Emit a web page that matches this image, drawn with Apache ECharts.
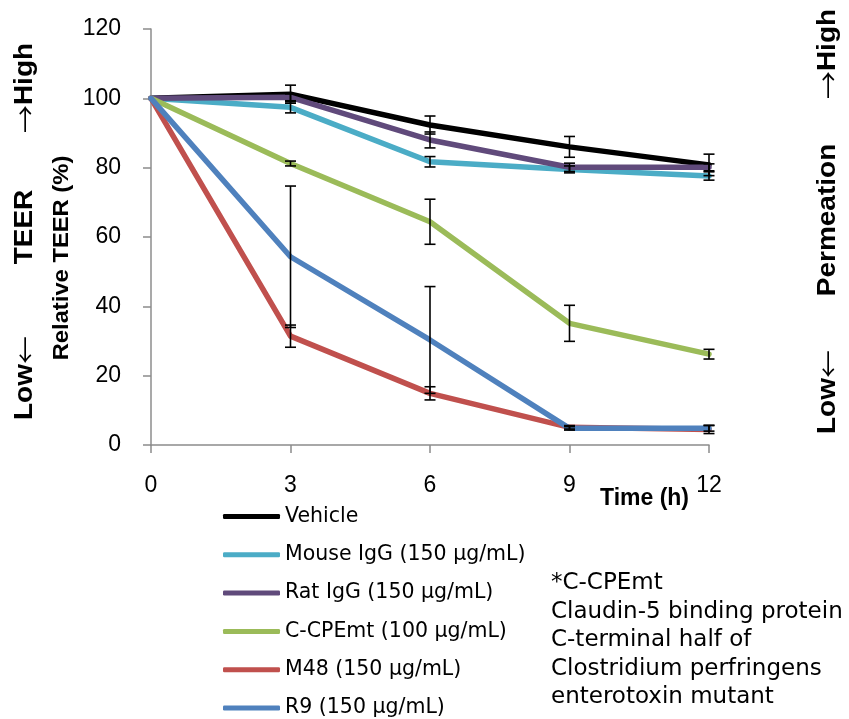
<!DOCTYPE html>
<html><head><meta charset="utf-8">
<script src="https://cdn.jsdelivr.net/npm/echarts@6/dist/echarts.min.js"></script>
<style>html,body{margin:0;padding:0;background:#fff}#c{width:849px;height:719px}</style>
</head><body><div id="c"></div>
<script>
const times = [0, 3, 6, 9, 12];
const seriesNames = ['Vehicle', 'Mouse IgG (150 µg/mL)', 'Rat IgG (150 µg/mL)', 'C-CPEmt (100 µg/mL)', 'M48 (150 µg/mL)', 'R9 (150 µg/mL)'];
const vehicle = [100, 101.2, 92.3, 86.0, 80.8];
const mouseIgG = [100, 97.4, 81.7, 79.5, 77.6];
const ratIgG = [100, 100.3, 88.0, 80.1, 80.1];
const ccpemt = [100, 81.2, 64.4, 35.1, 26.2];
const m48 = [100, 31.4, 14.9, 5.1, 4.5];
const r9 = [100, 54.3, 30.3, 4.8, 4.8];
const vehicleErr = [0, 2.6, 2.6, 3.0, 3.1];
const mouseIgGErr = [0, 1.6, 1.5, 1.0, 1.2];
const ratIgGErr = [0, 1.0, 2.3, 1.2, 1.0];
const ccpemtErr = [0, 0.7, 6.5, 5.2, 1.4];
const m48Err = [0, 3.2, 1.9, 0.5, 1.2];
const r9Err = [0, 20.4, 15.4, 0.5, 0.8];
const colors = ['#000000', '#4BACC6', '#604A7B', '#9BBB59', '#C0504D', '#4F81BD'];

const values = [vehicle, mouseIgG, ratIgG, ccpemt, m48, r9];
const errs = [vehicleErr, mouseIgGErr, ratIgGErr, ccpemtErr, m48Err, r9Err];

const chart = echarts.init(document.getElementById('c'));
const lineSeries = values.map((v, i) => ({
  name: seriesNames[i], type: 'line', data: times.map((t, j) => [t, v[j]]),
  symbol: 'none', lineStyle: { width: 5.5, color: colors[i], cap: 'round', join: 'round' }, itemStyle: { color: colors[i] },
  z: 2 + i, animation: false
}));
const errData = [];
values.forEach((v, i) => v.forEach((y, j) => { if (errs[i][j] > 0) errData.push([times[j], y - errs[i][j], y + errs[i][j]]); }));
const errSeries = {
  type: 'custom', data: errData, z: 20, animation: false,
  renderItem: function (params, api) {
    const lo = api.coord([api.value(0), api.value(1)]);
    const hi = api.coord([api.value(0), api.value(2)]);
    const w = 5.5;
    const st = { stroke: '#000', lineWidth: 1.6 };
    return { type: 'group', children: [
      { type: 'line', shape: { x1: lo[0], y1: lo[1], x2: hi[0], y2: hi[1] }, style: st },
      { type: 'line', shape: { x1: lo[0] - w, y1: lo[1], x2: lo[0] + w, y2: lo[1] }, style: st },
      { type: 'line', shape: { x1: hi[0] - w, y1: hi[1], x2: hi[0] + w, y2: hi[1] }, style: st }
    ]};
  }
};
const axisStyle = { color: '#8c8c8c', width: 1.5 };
const rich = {
  a: { fontFamily: '"Noto Sans CJK JP"', fontSize: 25, fontWeight: 'normal', fill: '#000' },
  b: { fontFamily: '"Liberation Sans", Arial', fontSize: 25, fontWeight: 'bold', fill: '#000' }
};
function side(x, y, text) {
  return { type: 'text', x: x, y: y, rotation: Math.PI / 2, scaleX: 1.12,
    style: { text: text, rich: rich, align: 'center', verticalAlign: 'middle' } };
}
chart.setOption({
  animation: false,
  grid: { left: 151, right: 140, top: 29, bottom: 274 },
  xAxis: { type: 'value', min: 0, max: 12, interval: 3,
    axisLine: { lineStyle: axisStyle }, axisTick: { show: true, length: 8, lineStyle: axisStyle },
    splitLine: { show: false },
    axisLabel: { color: '#000', fontSize: 23, fontFamily: '"Liberation Sans", Arial', margin: 29 } },
  yAxis: { type: 'value', min: 0, max: 120, interval: 20,
    axisLine: { show: true, lineStyle: axisStyle },
    axisTick: { show: true, length: 8, lineStyle: axisStyle },
    splitLine: { show: false },
    axisLabel: { color: '#000', fontSize: 23, fontFamily: '"Liberation Sans", Arial', margin: 30 } },
  legend: { data: seriesNames, orient: 'vertical', left: 218, top: 501, height: 230, itemWidth: 57, itemHeight: 5, itemGap: 17.3,
    icon: 'roundRect',
    textStyle: { fontSize: 20.5, fontFamily: '"DejaVu Sans", Verdana, sans-serif', color: '#000', lineHeight: 20 } },
  graphic: [
    { type: 'text', x: 600, y: 499, style: { text: 'Time (h)', font: 'bold 23px "Liberation Sans", Arial', fill: '#000', verticalAlign: 'middle' } },
    { type: 'text', x: 62, y: 258, rotation: Math.PI / 2, scaleX: 1.08, style: { text: 'Relative TEER (%)', font: 'bold 22px "Liberation Sans", Arial', fill: '#000', align: 'center', verticalAlign: 'middle' } },
    side(25, 88, '{a|→}{b|High}'),
    side(25, 227, '{b|TEER}'),
    side(25, 378, '{b|Low}{a|←}'),
    side(828, 54, '{a|→}{b|High}'),
    side(828, 220, '{b|Permeation}'),
    side(828, 392, '{b|Low}{a|←}'),
    { type: 'text', left: 551, top: 569, style: { text: '*C-CPEmt\nClaudin-5 binding protein\nC-terminal half of\nClostridium perfringens\nenterotoxin mutant', font: '23px "DejaVu Sans", Verdana, sans-serif', fill: '#000', lineHeight: 28.5 } }
  ],
  series: lineSeries.concat([errSeries])
});
</script></body></html>
